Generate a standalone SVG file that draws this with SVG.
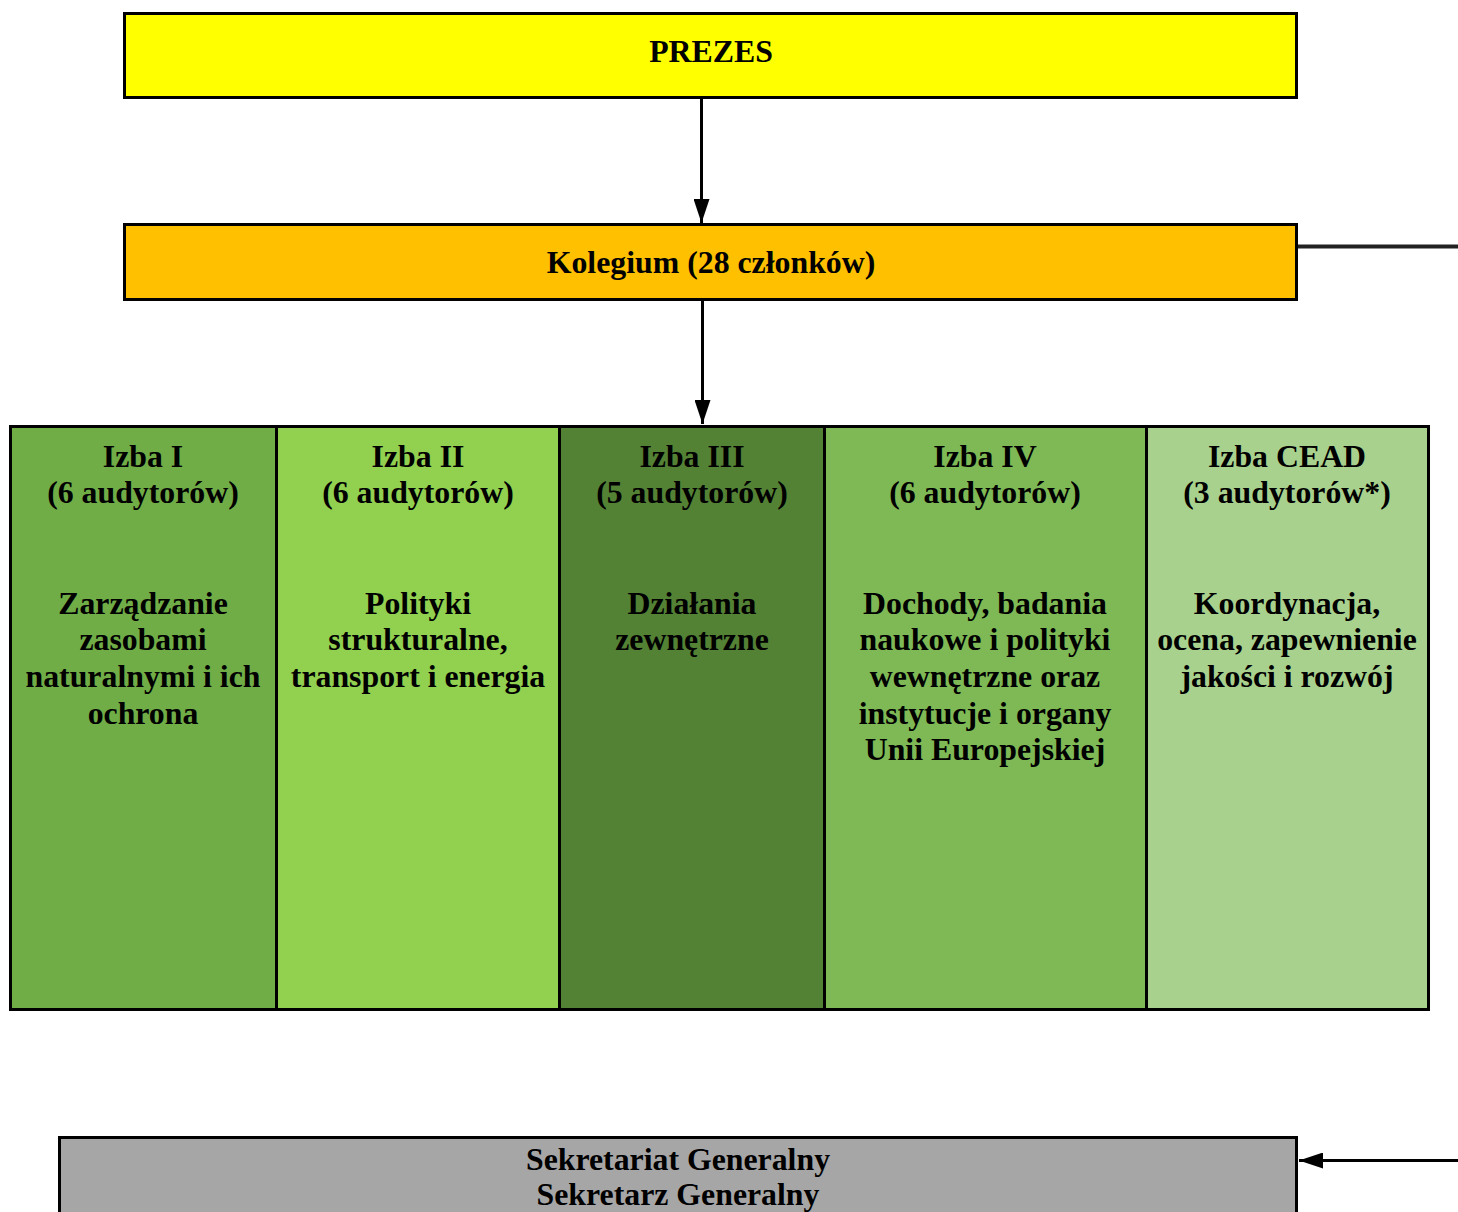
<svg xmlns="http://www.w3.org/2000/svg" width="1458" height="1212" viewBox="0 0 1458 1212">
<defs>
<style>
.box{stroke:#000;stroke-width:3}
.t{font-family:"Liberation Serif","Times New Roman",serif;font-weight:bold;font-size:31.8px;fill:#000;text-anchor:middle}
.ln{stroke:#000;stroke-width:3;fill:none}
</style>
<marker id="ah" viewBox="0 0 24 16" refX="24" refY="8" markerWidth="24" markerHeight="16" orient="auto" markerUnits="userSpaceOnUse">
<path d="M0,0 L24,8 L0,16 Z" fill="#000"/>
</marker>
</defs>
<rect width="1458" height="1212" fill="#fff"/>
<g id="prezes">
<rect class="box" x="124.5" y="13.5" width="1172" height="84" fill="#FFFF00"/>
<text class="t" x="711" y="62">PREZES</text>
</g>
<g id="kolegium">
<rect class="box" x="124.5" y="224.5" width="1172" height="75" fill="#FFC000"/>
<text class="t" x="711" y="273">Kolegium (28 członków)</text>
</g>
<g id="izba1">
<rect class="box" x="10.5" y="426.5" width="266" height="583" fill="#70AD47"/>
<text class="t" x="143" y="467">Izba I</text>
<text class="t" x="143" y="503">(6 audytorów)</text>
<text class="t" x="143" y="614">Zarządzanie</text>
<text class="t" x="143" y="650">zasobami</text>
<text class="t" x="143" y="687">naturalnymi i ich</text>
<text class="t" x="143" y="724">ochrona</text>
</g>
<g id="izba2">
<rect class="box" x="276.5" y="426.5" width="283" height="583" fill="#92D050"/>
<text class="t" x="418" y="467">Izba II</text>
<text class="t" x="418" y="503">(6 audytorów)</text>
<text class="t" x="418" y="614">Polityki</text>
<text class="t" x="418" y="650">strukturalne,</text>
<text class="t" x="418" y="687">transport i energia</text>
</g>
<g id="izba3">
<rect class="box" x="559.5" y="426.5" width="265" height="583" fill="#548235"/>
<text class="t" x="692" y="467">Izba III</text>
<text class="t" x="692" y="503">(5 audytorów)</text>
<text class="t" x="692" y="614">Działania</text>
<text class="t" x="692" y="650">zewnętrzne</text>
</g>
<g id="izba4">
<rect class="box" x="824.5" y="426.5" width="322" height="583" fill="#7EB955"/>
<text class="t" x="985" y="467">Izba IV</text>
<text class="t" x="985" y="503">(6 audytorów)</text>
<text class="t" x="985" y="614">Dochody, badania</text>
<text class="t" x="985" y="650">naukowe i polityki</text>
<text class="t" x="985" y="687">wewnętrzne oraz</text>
<text class="t" x="985" y="724">instytucje i organy</text>
<text class="t" x="985" y="760">Unii Europejskiej</text>
</g>
<g id="izbaCEAD">
<rect class="box" x="1146.5" y="426.5" width="282" height="583" fill="#A9D18E"/>
<text class="t" x="1287" y="467">Izba CEAD</text>
<text class="t" x="1287" y="503">(3 audytorów*)</text>
<text class="t" x="1287" y="614">Koordynacja,</text>
<text class="t" x="1287" y="650">ocena, zapewnienie</text>
<text class="t" x="1287" y="687">jakości i rozwój</text>
</g>
<g id="sekretariat">
<rect class="box" x="59.5" y="1137.5" width="1237" height="90" fill="#A6A6A6"/>
<text class="t" x="678" y="1170">Sekretariat Generalny</text>
<text class="t" x="678" y="1205">Sekretarz Generalny</text>
</g>
<g id="connectors">
<line class="ln" x1="701.5" y1="98" x2="701.5" y2="223" marker-end="url(#ah)"/>
<line class="ln" x1="702.5" y1="300" x2="702.5" y2="424" marker-end="url(#ah)"/>
<line x1="1298" y1="246.5" x2="1458" y2="246.5" stroke="#222" stroke-width="4"/>
<line class="ln" x1="1458" y1="1160.5" x2="1299" y2="1160.5" marker-end="url(#ah)"/>
</g>
</svg>
